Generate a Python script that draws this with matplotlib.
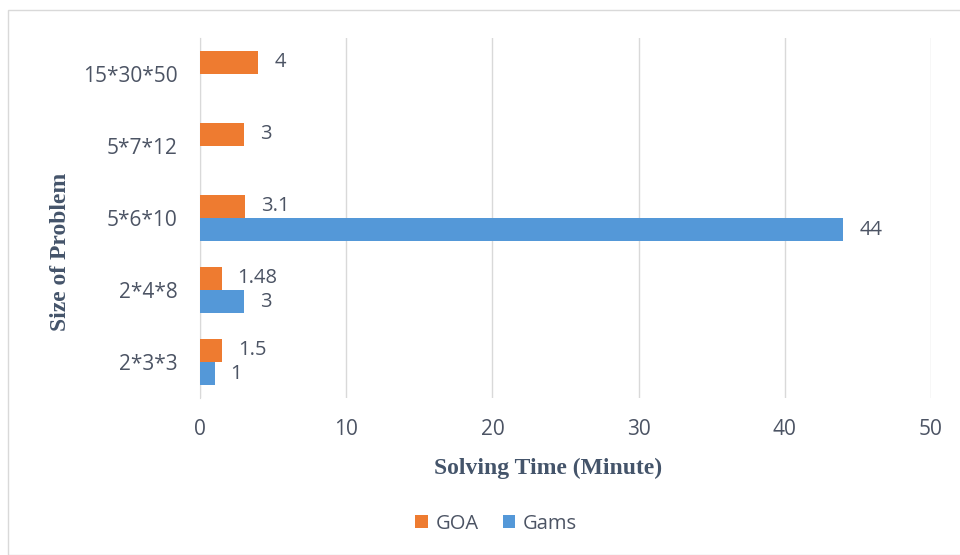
import matplotlib.pyplot as plt
import numpy as np
from matplotlib.patches import Rectangle

# data
sizes = ["2*3*3", "2*4*8", "5*6*10", "5*7*12", "15*30*50"]
goa = [1.5, 1.48, 3.1, 3, 4]
gams = [1, 3, 44, None, None]
goa_labels = ["1.5", "1.48", "3.1", "3", "4"]
gams_labels = ["1", "3", "44", "", ""]

orange = "#EE7B30"
blue = "#5498D8"
txt = "#4C5464"
title_col = "#44546A"
font = "Open Sans"

fig = plt.figure(figsize=(9.6, 5.55), dpi=100)
ax = fig.add_axes([0.2083, 0.2829, 0.7615, 0.6486])

y = np.arange(len(sizes))
h = 0.32

goa_bars = ax.barh(y + h / 2, goa, height=h, color=orange, label="GOA", zorder=3)
gams_vals = [v if v is not None else 0 for v in gams]
gams_bars = ax.barh(y - h / 2, gams_vals, height=h, color=blue, label="Gams", zorder=3)
for b, v in zip(gams_bars, gams):
    if v is None:
        b.set_visible(False)

# data labels
for i in range(len(sizes)):
    ax.annotate(goa_labels[i], (goa[i], y[i] + h / 2), xytext=(11.5, 0),
                textcoords="offset points", va="center", ha="left",
                fontsize=14.5, color=txt, family=font)
    if gams[i] is not None:
        ax.annotate(gams_labels[i], (gams[i], y[i] - h / 2), xytext=(11.5, 0),
                    textcoords="offset points", va="center", ha="left",
                    fontsize=14.5, color=txt, family=font)

ax.set_xlim(0, 50)
ax.set_ylim(-0.5, len(sizes) - 0.5)
ax.set_xticks(np.arange(0, 51, 10))
ax.set_yticks(y)
ax.set_yticklabels(sizes)
ax.tick_params(axis="both", length=0, labelsize=15, labelcolor=txt)
for lab in ax.get_xticklabels() + ax.get_yticklabels():
    lab.set_family(font)
ax.xaxis.set_tick_params(pad=15)
ax.yaxis.set_tick_params(pad=16)

ax.grid(axis="x", color="#D9D9D9", lw=1, zorder=0)
for s in ["top", "right", "bottom"]:
    ax.spines[s].set_visible(False)
ax.spines["left"].set_color("#D9D9D9")

ax.set_xlabel("Solving Time (Minute)", family="Liberation Serif", fontweight="bold",
              fontsize=17, color=title_col)
ax.xaxis.set_label_coords(0.476, -0.167)
ax.set_ylabel("Size of Problem", family="Liberation Serif", fontweight="bold",
              fontsize=17, color=title_col)
ax.yaxis.set_label_coords(-0.176, 0.405)

fig.legend(handles=[goa_bars, gams_bars], labels=["GOA", "Gams"], loc="center",
           bbox_to_anchor=(0.517, 0.056), ncol=2, frameon=False,
           prop={"family": font, "size": 14.5}, labelcolor=txt,
           handlelength=0.6, handleheight=0.6, handletextpad=0.4, columnspacing=1.2)

fig.patches.append(Rectangle((8 / 960, 0.0), 1.0, 1 - 10 / 555, transform=fig.transFigure,
                             fill=False, edgecolor="#D9D9D9", lw=1))

fig.savefig("out.png", dpi=100)
